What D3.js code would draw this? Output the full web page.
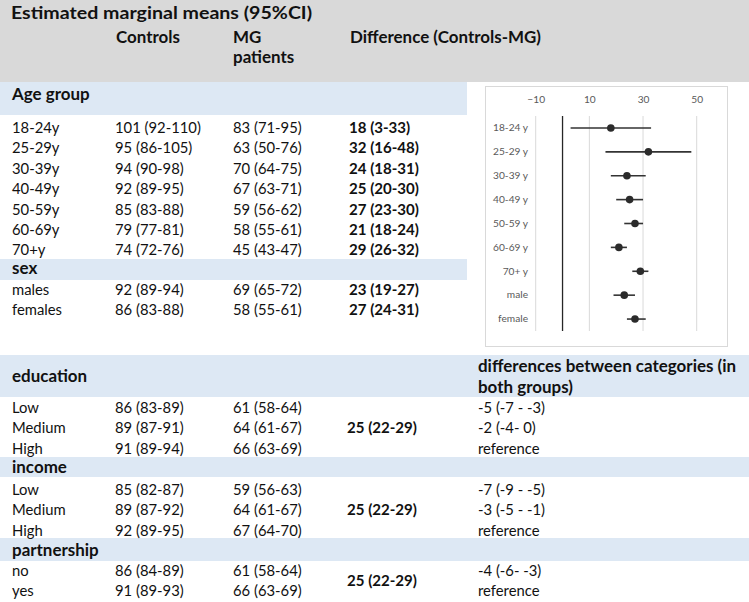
<!DOCTYPE html>
<html><head><meta charset="utf-8">
<script src="https://cdn.jsdelivr.net/npm/d3@7"></script>
<style>html,body{margin:0;padding:0;background:#fff;}svg{display:block;}</style>
</head><body>
<svg id="c" width="749" height="602"></svg>
<script>
// ---------- DATA ----------
const title = "Estimated marginal means (95%CI)";
const colHeaders = ["Controls", "MG", "patients", "Difference (Controls-MG)"];

const ageLabels = ["18-24y","25-29y","30-39y","40-49y","50-59y","60-69y","70+y"];
const ageControls = [[101,92,110],[95,86,105],[94,90,98],[92,89,95],[85,83,88],[79,77,81],[74,72,76]];
const ageMG       = [[83,71,95],[63,50,76],[70,64,75],[67,63,71],[59,56,62],[58,55,61],[45,43,47]];
const ageDiff     = [[18,3,33],[32,16,48],[24,18,31],[25,20,30],[27,23,30],[21,18,24],[29,26,32]];

const sexLabels = ["males","females"];
const sexControls = [[92,89,94],[86,83,88]];
const sexMG       = [[69,65,72],[58,55,61]];
const sexDiff     = [[23,19,27],[27,24,31]];

const eduLabels = ["Low","Medium","High"];
const eduControls = [[86,83,89],[89,87,91],[91,89,94]];
const eduMG       = [[61,58,64],[64,61,67],[66,63,69]];
const eduDiff     = [25,22,29];
const eduCatDiff  = ["-5 (-7 - -3)","-2 (-4- 0)","reference"];

const incLabels = ["Low","Medium","High"];
const incControls = [[85,82,87],[89,87,92],[92,89,95]];
const incMG       = [[59,56,63],[64,61,67],[67,64,70]];
const incDiff     = [25,22,29];
const incCatDiff  = ["-7 (-9 - -5)","-3 (-5 - -1)","reference"];

const parLabels = ["no","yes"];
const parControls = [[86,84,89],[91,89,93]];
const parMG       = [[61,58,64],[66,63,69]];
const parDiff     = [25,22,29];
const parCatDiff  = ["-4 (-6- -3)","reference"];

const catDiffHeader = ["differences between categories (in","both groups)"];

const forestLabels = ["18-24 y","25-29 y","30-39 y","40-49 y","50-59 y","60-69 y","70+ y","male","female"];
const forestValues = ageDiff.concat(sexDiff);
const forestTicks = [-10, 10, 30, 50];

// ---------- HELPERS ----------
const svg = d3.select("#c");
const FONT = "Lato, 'Open Sans', sans-serif";
const fmt = t => `${t[0]} (${t[1]}-${t[2]})`;

function measure(str, weight, size) {
  const t = svg.append("text").attr("font-family", FONT).attr("font-weight", weight)
    .attr("font-size", size).text(str);
  const w = t.node().getComputedTextLength();
  t.remove();
  return w;
}
function makeStyle(str, weight, size, target) {
  return {weight, size, sx: target / measure(str, weight, size)};
}
const S_TITLE = makeStyle(title, 700, 17.3, 301);
const S_HEAD  = makeStyle("Controls", 700, 16.2, 64);
const S_BODY  = makeStyle("101 (92-110)", 400, 16, 86);
const S_BOLD  = makeStyle("32 (16-48)", 700, 16, 70);
const sizeAxis = 20 * 35 / measure("18-24 y", 400, 20);

function txt(x, y, s, st = S_BODY) {
  return svg.append("text")
    .attr("transform", `translate(${x},${y}) scale(${st.sx},1)`)
    .attr("font-family", FONT)
    .attr("font-size", st.size)
    .attr("font-weight", st.weight)
    .attr("fill", "#111")
    .text(s);
}

// ---------- BACKGROUND BANDS ----------
const GRAY = "#d9d9d9", BLUE = "#dde8f4";
svg.append("rect").attr("x", 0).attr("y", 0).attr("width", 749).attr("height", 82).attr("fill", GRAY);
const bands = [
  {y: 82,  h: 33, w: 467},
  {y: 259, h: 21, w: 467},
  {y: 355, h: 42, w: 749},
  {y: 457, h: 20, w: 749},
  {y: 538, h: 23, w: 749}
];
svg.selectAll("rect.band").data(bands).join("rect").attr("class", "band")
  .attr("x", 0).attr("y", d => d.y).attr("width", d => d.w).attr("height", d => d.h).attr("fill", BLUE);

// ---------- HEADER ----------
const X1 = 12, X2 = 115, X3 = 233, X4 = 349, X5 = 478;
txt(X1 - 1, 19, title, S_TITLE);
txt(X2 + 1, 43, colHeaders[0], S_HEAD);
txt(X3, 43, colHeaders[1], S_HEAD);
txt(X3, 63, colHeaders[2], S_HEAD);
txt(X4 + 1, 43, colHeaders[3], S_HEAD);

// ---------- TABLE ----------
const STEP = 20.4;
function section(labels, ctrl, mg, y0, diffPerRow) {
  labels.forEach((l, i) => {
    const y = y0 + i * STEP;
    txt(X1, y, l);
    txt(X2, y, fmt(ctrl[i]));
    txt(X3, y, fmt(mg[i]));
    if (diffPerRow) txt(X4, y, fmt(diffPerRow[i]), S_BOLD);
  });
}
txt(X1, 100, "Age group", S_HEAD);
section(ageLabels, ageControls, ageMG, 133, ageDiff);
txt(X1, 274, "sex", S_HEAD);
section(sexLabels, sexControls, sexMG, 295, sexDiff);

txt(X1, 382, "education", S_HEAD);
txt(X5, 372, catDiffHeader[0], S_HEAD);
txt(X5, 393, catDiffHeader[1], S_HEAD);
section(eduLabels, eduControls, eduMG, 413, null);
txt(X4 - 2, 413 + STEP, fmt(eduDiff), S_BOLD);
eduCatDiff.forEach((s, i) => txt(X5, 413 + i * STEP, s));

txt(X1, 473, "income", S_HEAD);
section(incLabels, incControls, incMG, 495, null);
txt(X4 - 2, 495 + STEP, fmt(incDiff), S_BOLD);
incCatDiff.forEach((s, i) => txt(X5, 495 + i * STEP, s));

txt(X1, 556, "partnership", S_HEAD);
section(parLabels, parControls, parMG, 576, null);
txt(X4 - 2, 576 + STEP / 2, fmt(parDiff), S_BOLD);
parCatDiff.forEach((s, i) => txt(X5, 576 + i * STEP, s));

// ---------- FOREST PLOT ----------
const fg = svg.append("g");
fg.append("rect").attr("x", 485.5).attr("y", 86.5).attr("width", 242).attr("height", 260)
  .attr("fill", "#fff").attr("stroke", "#d9d9d9");

const x = d3.scaleLinear().domain([-10, 50]).range([535.7, 696.7]);
const y = d3.scaleBand().domain(forestLabels).range([116, 331]);
const y0 = y.range()[0], y1 = y.range()[1];

fg.selectAll("line.grid").data(forestTicks).join("line").attr("class", "grid")
  .attr("x1", d => x(d)).attr("x2", d => x(d)).attr("y1", y0).attr("y2", y1)
  .attr("stroke", "#d9d9d9").attr("stroke-width", 1);

const xa = fg.append("g").attr("transform", `translate(0,${y0})`)
  .call(d3.axisTop(x).tickValues(forestTicks).tickSize(0).tickPadding(13));
xa.select(".domain").remove();
xa.selectAll("text").attr("font-family", FONT).attr("font-size", sizeAxis).attr("fill", "#595959");

const ya = fg.append("g").attr("transform", `translate(528,0)`)
  .call(d3.axisLeft(y).tickSize(0).tickPadding(0));
ya.select(".domain").remove();
ya.selectAll("text").attr("font-family", FONT).attr("font-size", sizeAxis).attr("fill", "#595959");

fg.append("line").attr("x1", x(0)).attr("x2", x(0)).attr("y1", y0).attr("y2", y1)
  .attr("stroke", "#262626").attr("stroke-width", 1.3);

const rows = forestLabels.map((l, i) => ({l, m: forestValues[i][0], lo: forestValues[i][1], hi: forestValues[i][2]}));
fg.selectAll("line.ci").data(rows).join("line").attr("class", "ci")
  .attr("x1", d => x(d.lo)).attr("x2", d => x(d.hi))
  .attr("y1", d => y(d.l) + y.bandwidth() / 2).attr("y2", d => y(d.l) + y.bandwidth() / 2)
  .attr("stroke", "#333").attr("stroke-width", 1.6);
fg.selectAll("circle.pt").data(rows).join("circle").attr("class", "pt")
  .attr("cx", d => x(d.m)).attr("cy", d => y(d.l) + y.bandwidth() / 2).attr("r", 3.8)
  .attr("fill", "#2b2b2b");
</script>
</body></html>
